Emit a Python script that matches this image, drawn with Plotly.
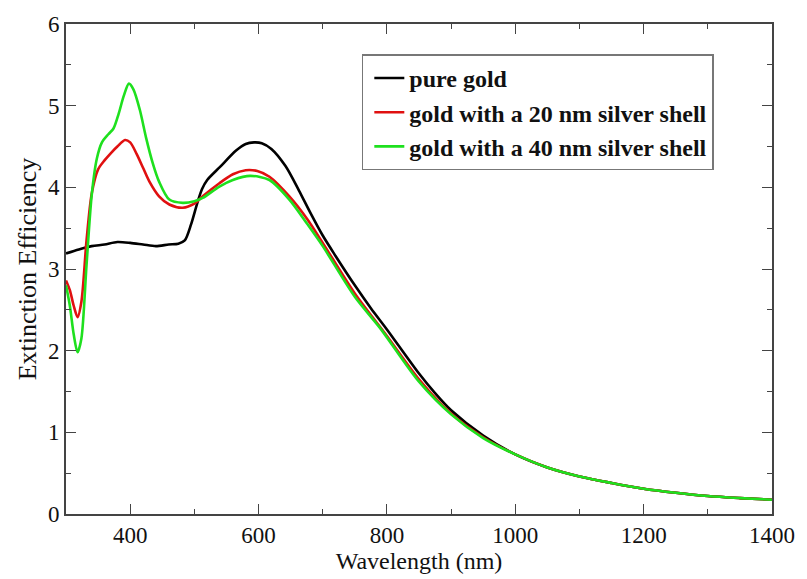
import plotly.graph_objects as go

# Wavelength grids (nm) and extinction efficiency values
wl_gold = [300, 320, 340, 360, 380, 400, 420, 440, 460, 475, 485, 495, 505, 512, 520, 540,
           565, 580, 593, 605, 620, 642, 663, 680, 700, 720, 750, 775, 800, 850, 875, 900, 950,
           1000, 1050, 1100, 1150, 1200, 1250, 1300, 1350, 1400]
ext_gold = [3.19, 3.24, 3.28, 3.30, 3.33, 3.32, 3.30, 3.28, 3.30, 3.31, 3.35, 3.55, 3.82, 3.98, 4.09, 4.25,
            4.45, 4.53, 4.55, 4.54, 4.47, 4.26, 3.96, 3.70, 3.41, 3.16, 2.80, 2.52, 2.26, 1.72, 1.48, 1.27, 0.96,
            0.73, 0.57, 0.46, 0.38, 0.31, 0.26, 0.22, 0.195, 0.175]

wl_20 = [300, 306, 312, 318, 324, 332, 340, 350, 360, 370, 380, 392, 400, 410, 420, 430, 445,
         461, 482, 500, 513, 539, 560, 580, 598, 617, 648, 676, 700, 750, 800,
         850, 900, 950, 1000, 1050, 1100, 1150, 1200, 1250, 1300, 1350, 1400]
ext_20 = [2.86, 2.74, 2.55, 2.41, 2.60, 3.35, 3.92, 4.22, 4.33, 4.42, 4.50, 4.58, 4.55, 4.41, 4.24, 4.07, 3.89,
          3.79, 3.75, 3.80, 3.89, 4.05, 4.16, 4.21, 4.20, 4.13, 3.89, 3.61, 3.32, 2.70, 2.18,
          1.65, 1.23, 0.94, 0.73, 0.57, 0.46, 0.38, 0.31, 0.26, 0.22, 0.195, 0.175]

wl_40 = [300, 306, 312, 318, 324, 332, 340, 348, 356, 366, 374, 382, 390, 398, 405, 415, 425,
         435, 445, 461, 482, 500, 513, 539, 560, 587, 617, 648, 676, 700,
         750, 790, 850, 900, 950, 1000, 1050, 1100, 1150, 1200, 1250, 1300, 1350, 1400]
ext_40 = [2.80, 2.55, 2.20, 1.98, 2.15, 3.05, 3.90, 4.35, 4.55, 4.65, 4.72, 4.90, 5.12, 5.27, 5.20, 4.95, 4.60,
          4.30, 4.07, 3.85, 3.81, 3.83, 3.87, 4.01, 4.09, 4.14, 4.09, 3.85, 3.55, 3.28,
          2.66, 2.27, 1.62, 1.22, 0.93, 0.73, 0.57, 0.46, 0.38, 0.31, 0.26, 0.22, 0.195, 0.175]

names = ["pure gold", "gold with a 20 nm silver shell", "gold with a 40 nm silver shell"]
colors = ["#000000", "#e01010", "#1ee01e"]

SERIF = "Liberation Serif, Times New Roman, DejaVu Serif, serif"

fig = go.Figure()
for wl, ext, name, col in zip([wl_gold, wl_20, wl_40], [ext_gold, ext_20, ext_40], names, colors):
    fig.add_trace(go.Scatter(x=wl, y=ext, mode="lines", name=name,
                             line=dict(color=col, width=2.6, shape="spline", smoothing=0.8)))

axis_common = dict(
    showline=True, linecolor="#444444", linewidth=1.6, mirror="ticks",
    ticks="inside", ticklen=10, tickwidth=1.3, tickcolor="#444444",
    showgrid=False, zeroline=False,
    tickfont=dict(family=SERIF, size=23, color="#111111"),
)

fig.update_xaxes(range=[300, 1400], tick0=0, dtick=200,
                 minor=dict(dtick=100, ticks="inside", ticklen=5, tickwidth=1.3, tickcolor="#444444"),
                 title=dict(text="Wavelength (nm)", font=dict(family=SERIF, size=24, color="#111111"),
                            standoff=2),
                 **axis_common)
fig.update_yaxes(range=[0, 6], tick0=0, dtick=1,
                 minor=dict(dtick=0.5, ticks="inside", ticklen=5, tickwidth=1.3, tickcolor="#444444"),
                 title=dict(text="Extinction Efficiency", font=dict(family=SERIF, size=26, color="#111111"),
                            standoff=4),
                 **axis_common)

fig.update_layout(
    width=807, height=579,
    margin=dict(l=66, r=32, t=23, b=62),
    plot_bgcolor="white", paper_bgcolor="white",
    legend=dict(x=0.419, y=0.938, xanchor="left", yanchor="top",
                bgcolor="white", bordercolor="#777777", borderwidth=1.5,
                font=dict(family=SERIF, size=24, color="#111111", weight="bold"),
                itemwidth=30, tracegroupgap=0, indentation=6),
    showlegend=True,
)

fig.write_html("out.html")
